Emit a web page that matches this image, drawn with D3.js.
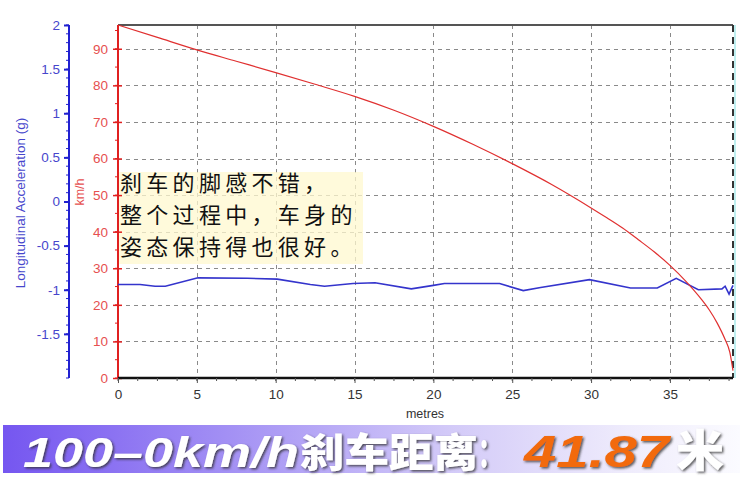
<!DOCTYPE html>
<html><head><meta charset="utf-8">
<script src="https://cdn.jsdelivr.net/npm/d3@7"></script>
<style>body{margin:0;background:#fff}svg{display:block}</style>
</head><body>
<svg id="c" width="740" height="481"></svg>
<script>
// ---- data ----
const redDist  = [0,2.5,5,7.5,10,12.5,15,17.5,20,22.5,25,27.5,30,31,32,33,34,35,36,37,37.5,38,38.5,38.8,39];
const redKmh   = [96.5,93.1,89.7,86.6,83.5,80.3,77,73.2,68.8,63.9,58.6,52.9,46.5,43.8,41,37.8,34.5,30.8,26.5,21.5,18.6,15,10.5,7,2];
const blueDist = [0,1.4,2.35,3.0,5.07,8.2,10.1,12.2,13.1,14.9,16.3,18.6,20.0,20.7,24.2,25.7,26.8,29.9,32.5,34.2,35.4,36.8,38.3,38.5,38.75,39];
const blueG    = [-0.94,-0.94,-0.96,-0.96,-0.865,-0.87,-0.88,-0.94,-0.96,-0.93,-0.92,-0.99,-0.95,-0.93,-0.93,-1.01,-0.975,-0.885,-0.98,-0.98,-0.87,-1.0,-0.99,-0.96,-1.05,-0.95];
const xTicks = [0,5,10,15,20,25,30,35];
const kmhTicks = [0,10,20,30,40,50,60,70,80,90];
const gTicks = [-1.5,-1,-0.5,0,0.5,1,1.5,2];
const noteLines = ["刹车的脚感不错，","整个过程中，车身的","姿态保持得也很好。"];
const bannerParts = ["100–0km/h","刹车距离","：","41.87","米"];

const svg = d3.select("#c");
const L=118,R=733,T=25,B=378;
const x = d3.scaleLinear([0,39],[L,R]);
const yK = d3.scaleLinear([0,96.5],[B,T]);
const yG = d3.scaleLinear([-2,2],[B,T]);
const tickFont = "13.5px 'Liberation Sans',Arial,sans-serif";

// grid
const grid = svg.append("g").attr("stroke","#8a8a8a").attr("stroke-dasharray","4,4").attr("stroke-width",1);
grid.selectAll("line.h").data(kmhTicks.filter(d=>d>0)).join("line")
  .attr("x1",L).attr("x2",R).attr("y1",d=>Math.round(yK(d))+0.5).attr("y2",d=>Math.round(yK(d))+0.5);
grid.selectAll("line.v").data(xTicks.filter(d=>d>0)).join("line")
  .attr("y1",T).attr("y2",B).attr("x1",d=>Math.round(x(d))+0.5).attr("x2",d=>Math.round(x(d))+0.5);

// top border, right cursor
svg.append("line").attr("x1",L).attr("x2",R).attr("y1",T).attr("y2",T).attr("stroke","#555").attr("stroke-width",2);
svg.append("line").attr("x1",R+2).attr("x2",R+2).attr("y1",T).attr("y2",B).attr("stroke","#bfeff0").attr("stroke-width",2);
svg.append("line").attr("x1",R).attr("x2",R).attr("y1",T).attr("y2",B).attr("stroke","#333").attr("stroke-width",2).attr("stroke-dasharray","7,5");

// annotation background
svg.append("rect").attr("x",L+1).attr("y",172).attr("width",244).attr("height",92).attr("fill","#fff8cf").attr("opacity",0.75);

// blue axis
const gAx = svg.append("g").attr("transform","translate(69,0)")
  .call(d3.axisLeft(yG).tickValues(gTicks).tickSize(5).tickPadding(4).tickFormat(d=>String(d)));
gAx.select(".domain").attr("stroke","#2020d0").attr("stroke-width",2).attr("d",`M0,${T}V${B}`);
gAx.selectAll(".tick line").attr("stroke","#2020d0").attr("stroke-width",2);
gAx.selectAll("text").attr("fill","#4646cc").style("font",tickFont);
gAx.selectAll("line.minor").data(d3.range(-20,21).map(d=>d/10)).join("line").attr("class","minor")
  .attr("x1",-3).attr("x2",0).attr("y1",d=>yG(d)).attr("y2",d=>yG(d)).attr("stroke","#2020d0");

// red axis
const kAx = svg.append("g").attr("transform",`translate(${L},0)`)
  .call(d3.axisLeft(yK).tickValues(kmhTicks).tickSize(5).tickPadding(5));
kAx.select(".domain").attr("stroke","#e02020").attr("stroke-width",2).attr("d",`M0,${T}V${B}`);
kAx.selectAll(".tick line").attr("stroke","#e02020").attr("stroke-width",1.5).attr("x2",-5).attr("x1",4);
kAx.selectAll("text").attr("fill","#e65050").style("font",tickFont);
kAx.selectAll("line.minor").data(d3.range(0,97,5)).join("line").attr("class","minor")
  .attr("x1",-3).attr("x2",0).attr("y1",d=>yK(d)).attr("y2",d=>yK(d)).attr("stroke","#e02020");

// x axis
const xAx = svg.append("g").attr("transform",`translate(0,${B})`)
  .call(d3.axisBottom(x).tickValues(xTicks).tickSize(5).tickPadding(6));
xAx.select(".domain").attr("stroke","#111").attr("stroke-width",2.5).attr("d",`M${L},0H${R}`);
xAx.selectAll(".tick line").attr("stroke","#555");
xAx.selectAll("text").attr("fill","#333").style("font",tickFont);
xAx.selectAll("line.minor").data(d3.range(0,39.1,1.25)).join("line").attr("class","minor")
  .attr("x1",d=>x(d)).attr("x2",d=>x(d)).attr("y1",0).attr("y2",3).attr("stroke","#555");

// titles
svg.append("text").attr("x",425).attr("y",418).attr("text-anchor","middle").attr("fill","#333")
  .style("font","12.5px 'Liberation Sans',Arial,sans-serif").text("metres");
svg.append("text").attr("transform","translate(25,203) rotate(-90)").attr("text-anchor","middle").attr("fill","#4646cc")
  .style("font","13.5px 'Liberation Sans',Arial,sans-serif").text("Longitudinal Acceleration (g)");
svg.append("text").attr("transform","translate(84,192) rotate(-90)").attr("text-anchor","middle").attr("fill","#e65050")
  .style("font","12.5px 'Liberation Sans',Arial,sans-serif").text("km/h");

// lines
svg.append("path").datum(blueDist.map((d,i)=>[d,blueG[i]]))
  .attr("fill","none").attr("stroke","#3434cc").attr("stroke-width",1.6)
  .attr("d",d3.line().x(d=>x(d[0])).y(d=>yG(d[1])));
svg.append("path").datum(redDist.map((d,i)=>[d,redKmh[i]]))
  .attr("fill","none").attr("stroke","#e03030").attr("stroke-width",1.2)
  .attr("d",d3.line().curve(d3.curveMonotoneX).x(d=>x(d[0])).y(d=>yK(d[1])));

// annotation text
svg.selectAll("text.note").data(noteLines).join("text").attr("class","note")
  .attr("x",120).attr("y",(d,i)=>191+i*32).attr("fill","#111")
  .style("font","22px 'Noto Sans CJK SC',sans-serif").style("letter-spacing","4.3px").text(d=>d);

// banner
const defs = svg.append("defs");
const gr = defs.append("linearGradient").attr("id","bg").attr("x1","0").attr("x2","1").attr("y1","0").attr("y2","0");
[[0,"#7556f0"],[0.3,"#a28ff4"],[0.6,"#d2c9f8"],[0.85,"#efecfc"],[1,"#fbfbff"]].forEach(s=>gr.append("stop").attr("offset",s[0]).attr("stop-color",s[1]));
const sh = defs.append("filter").attr("id","sh").attr("x","-10%").attr("y","-30%").attr("width","120%").attr("height","160%");
sh.append("feDropShadow").attr("dx",1.5).attr("dy",1.5).attr("stdDeviation",1.2).attr("flood-color","#333").attr("flood-opacity",0.8);
svg.append("rect").attr("x",3).attr("y",425).attr("width",737).attr("height",48).attr("fill","url(#bg)");

const parts = [
  {t:bannerParts[0], x:23, w:276, fill:"#fff", font:"bold italic 42px 'Liberation Sans',Arial,sans-serif"},
  {t:bannerParts[1], x:300, w:178, fill:"#fff", font:"900 40px 'Noto Sans CJK SC',sans-serif"},
  {t:bannerParts[2], x:478, w:24, fill:"#fff", font:"900 40px 'Noto Sans CJK SC',sans-serif"},
  {t:bannerParts[3], x:524, w:145, fill:"#f26a0a", font:"bold italic 44px 'Liberation Sans',Arial,sans-serif"},
  {t:bannerParts[4], x:676, w:48, fill:"#fff", font:"900 44px 'Noto Sans CJK SC',sans-serif"}
];
svg.selectAll("text.ban").data(parts).join("text").attr("class","ban")
  .attr("x",d=>d.x).attr("y",467).attr("fill",d=>d.fill).attr("filter","url(#sh)")
  .attr("textLength",d=>d.w).attr("lengthAdjust","spacingAndGlyphs")
  .style("font",d=>d.font).text(d=>d.t);
</script>
</body></html>
